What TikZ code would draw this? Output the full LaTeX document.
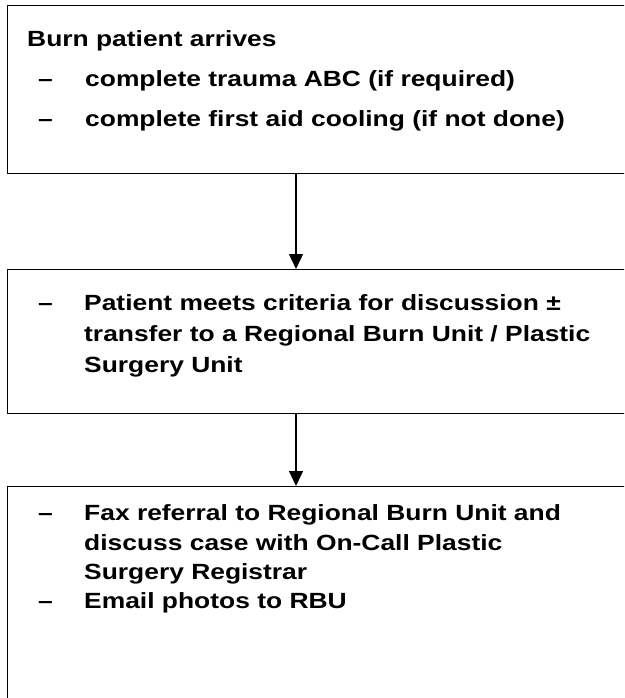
\documentclass[tikz,border=0pt]{standalone}
\usepackage{fontspec}
\setmainfont{Liberation Sans}[FakeStretch=1.2]
\usetikzlibrary{arrows.meta}
\begin{document}
\begin{tikzpicture}[x=1pt,y=-1pt,
  box/.style={draw=black,line width=1.3pt,anchor=north west,inner sep=0pt,minimum width=643pt},
  txt/.style={anchor=base west,inner sep=0pt,font=\fontsize{22}{30}\selectfont\bfseries},
  conn/.style={line width=1.3pt,-{Triangle[length=15pt,width=14pt]}}]
\useasboundingbox (0,0) rectangle (624,698);
\clip (0,0) rectangle (624,698);
% boxes
\node[box,minimum height=168pt] (b1) at (7,5) {};
\node[box,minimum height=144pt] (b2) at (7,269) {};
\node[box,minimum height=240pt] (b3) at (7,486) {};
% connectors
\coordinate (ax) at (296,0);
\draw[conn] (b1.south -| ax) -- (b2.north -| ax);
\draw[conn] (b2.south -| ax) -- (b3.north -| ax);
% box 1 text
\node[txt] (t1) at (27,47) {Burn patient arrives};
\node[txt] (d1a) at (38,87) {–};
\node[txt] (t1a) at (85,87) {complete trauma ABC (if required)};
\node[txt] (d1b) at (38,127) {–};
\node[txt] (t1b) at (85,127) {complete first aid cooling (if not done)};
% box 2 text
\node[txt] (d2) at (38,310) {–};
\node[txt] (t2a) at (84,310) {Patient meets criteria for discussion ±};
\node[txt] (t2b) at (84,341) {transfer to a Regional Burn Unit / Plastic};
\node[txt] (t2c) at (84,372) {Surgery Unit};
% box 3 text
\node[txt] (d3a) at (38,520) {–};
\node[txt] (t3a) at (84,520) {Fax referral to Regional Burn Unit and};
\node[txt] (t3b) at (84,550) {discuss case with On-Call Plastic};
\node[txt] (t3c) at (84,579) {Surgery Registrar};
\node[txt] (d3b) at (38,608) {–};
\node[txt] (t3d) at (84,608) {Email photos to RBU};
\end{tikzpicture}
\end{document}
